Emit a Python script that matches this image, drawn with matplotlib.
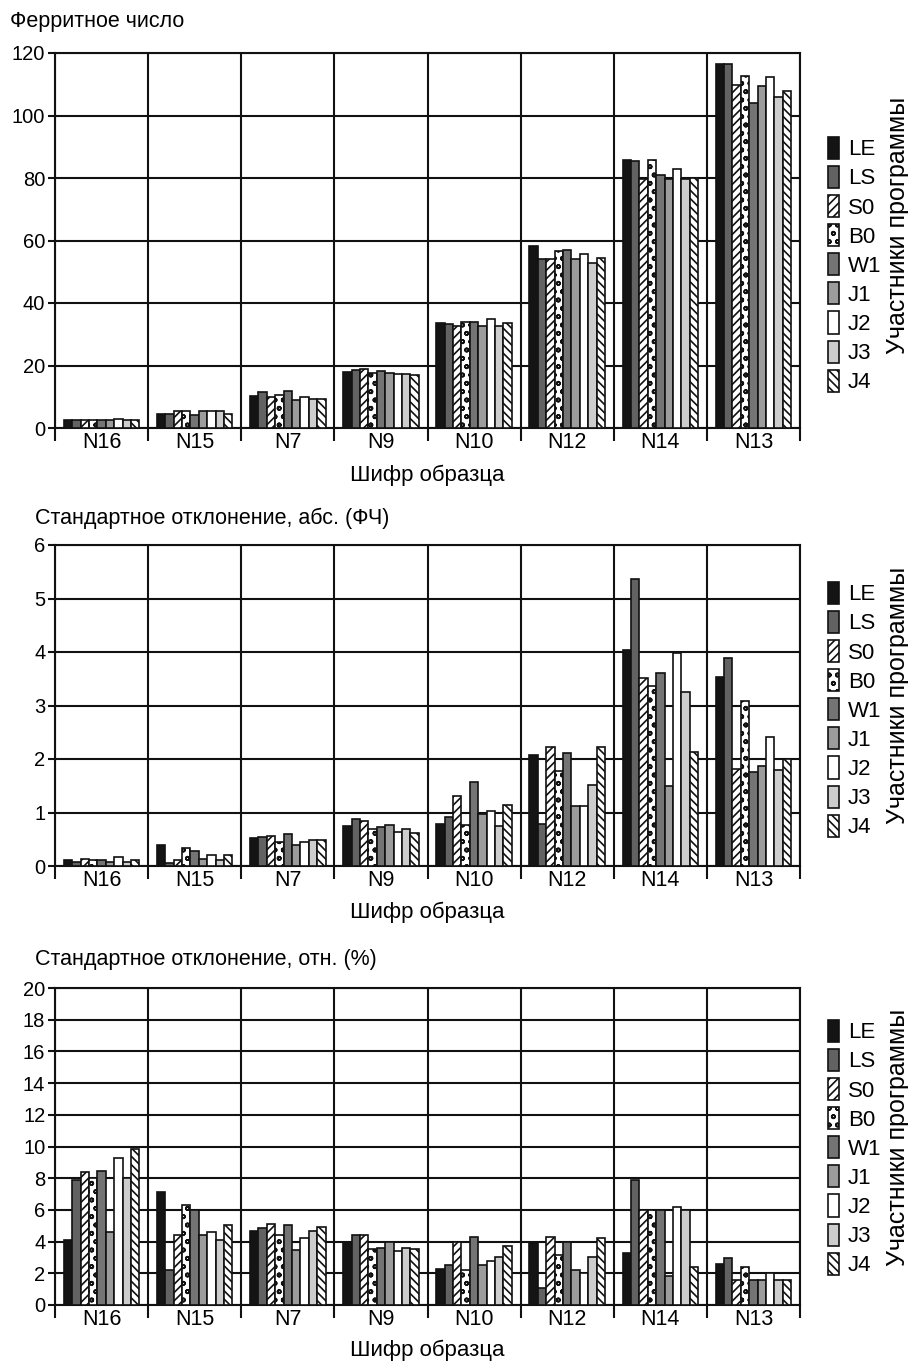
import matplotlib
matplotlib.use("Agg")
import matplotlib.pyplot as plt
from matplotlib.patches import Patch
import numpy as np

plt.rcParams['font.family'] = ['Liberation Sans', 'DejaVu Sans']
plt.rcParams['hatch.linewidth'] = 1.2

categories = ["N16", "N15", "N7", "N9", "N10", "N12", "N14", "N13"]
participants = ["LE", "LS", "S0", "B0", "W1", "J1", "J2", "J3", "J4"]

# Ferrite number, rows = participants, columns = categories
fn = {
    "LE": [2.7, 4.5, 10.3, 18.0, 33.5, 58.2, 85.7, 116.6],
    "LS": [2.7, 4.5, 11.4, 18.6, 33.3, 54.0, 85.3, 116.6],
    "S0": [2.6, 5.5, 10.0, 18.9, 32.8, 54.0, 79.8, 109.9],
    "B0": [2.7, 5.5, 10.6, 17.6, 34.0, 56.7, 85.7, 112.5],
    "W1": [2.7, 4.3, 11.7, 18.3, 34.0, 56.9, 81.0, 104.0],
    "J1": [2.7, 5.5, 9.0, 17.6, 32.6, 54.0, 79.6, 109.4],
    "J2": [2.8, 5.5, 9.8, 17.3, 34.9, 55.6, 82.8, 112.3],
    "J3": [2.6, 5.5, 9.3, 17.3, 32.8, 52.8, 79.6, 105.9],
    "J4": [2.7, 4.5, 9.3, 16.9, 33.5, 54.3, 80.1, 107.8],
}

# Standard deviation, absolute (FN)
sd_abs = {
    "LE": [0.11, 0.40, 0.52, 0.75, 0.79, 2.07, 4.04, 3.54],
    "LS": [0.07, 0.06, 0.55, 0.87, 0.92, 0.78, 5.37, 3.89],
    "S0": [0.14, 0.12, 0.57, 0.84, 1.30, 2.22, 3.52, 1.81],
    "B0": [0.12, 0.34, 0.45, 0.70, 0.76, 1.77, 3.37, 3.09],
    "W1": [0.12, 0.28, 0.60, 0.72, 1.57, 2.11, 3.61, 1.76],
    "J1": [0.08, 0.14, 0.40, 0.76, 0.98, 1.13, 1.49, 1.86],
    "J2": [0.16, 0.20, 0.45, 0.63, 1.02, 1.13, 3.99, 2.42],
    "J3": [0.08, 0.12, 0.48, 0.70, 0.75, 1.52, 3.26, 1.80],
    "J4": [0.12, 0.20, 0.48, 0.61, 1.14, 2.23, 2.13, 2.00],
}

# Standard deviation, relative (%)
sd_rel = {
    "LE": [4.1, 7.1, 4.7, 4.0, 2.3, 3.9, 3.3, 2.6],
    "LS": [7.9, 2.2, 4.85, 4.4, 2.5, 1.1, 7.9, 2.95],
    "S0": [8.4, 4.4, 5.1, 4.4, 4.0, 4.3, 6.0, 1.6],
    "B0": [8.0, 6.3, 4.4, 3.55, 2.2, 3.15, 6.0, 2.4],
    "W1": [8.45, 6.0, 5.05, 3.6, 4.3, 4.0, 6.0, 1.6],
    "J1": [4.6, 4.4, 3.5, 4.0, 2.5, 2.2, 1.8, 1.6],
    "J2": [9.25, 4.6, 4.25, 3.4, 2.75, 2.0, 6.2, 2.0],
    "J3": [8.0, 4.1, 4.7, 3.6, 3.05, 3.05, 6.0, 1.6],
    "J4": [9.85, 5.05, 4.9, 3.55, 3.75, 4.2, 2.4, 1.6],
}

styles = {
    "LE": dict(facecolor="#141414", hatch=None),
    "LS": dict(facecolor="#626262", hatch=None),
    "S0": dict(facecolor="white", hatch="////"),
    "B0": dict(facecolor="white", hatch="oo"),
    "W1": dict(facecolor="#747474", hatch=None),
    "J1": dict(facecolor="#9c9c9c", hatch=None),
    "J2": dict(facecolor="white", hatch=None),
    "J3": dict(facecolor="#cdcdcd", hatch=None),
    "J4": dict(facecolor="white", hatch="\\\\\\\\"),
}

W, H = 908, 1362
fig = plt.figure(figsize=(W / 100, H / 100), dpi=100)

panels = [
    dict(data=fn, ymax=120, step=20, title="Ферритное число",
         top=53, bottom=428, title_x=10, title_y=22, xlabel_y=475,
         leg_y=265, lab_y=225),
    dict(data=sd_abs, ymax=6, step=1, title="Стандартное отклонение, абс. (ФЧ)",
         top=545, bottom=866, title_x=35, title_y=518, xlabel_y=912,
         leg_y=710, lab_y=695),
    dict(data=sd_rel, ymax=20, step=2, title="Стандартное отклонение, отн. (%)",
         top=988, bottom=1305, title_x=35, title_y=960, xlabel_y=1350,
         leg_y=1148, lab_y=1137),
]

left_px, right_px = 55, 800
bw = 0.09
n = len(participants)
x = np.arange(len(categories)) + 0.5

for p in panels:
    ax = fig.add_axes([left_px / W, 1 - p["bottom"] / H,
                       (right_px - left_px) / W, (p["bottom"] - p["top"]) / H])
    for j, name in enumerate(participants):
        st = styles[name]
        ax.bar(x + (j - (n - 1) / 2) * bw, p["data"][name], width=bw,
               facecolor=st["facecolor"], hatch=st["hatch"],
               edgecolor="#111111", linewidth=1.2, zorder=3)
    ax.set_xlim(0, len(categories))
    ax.set_ylim(0, p["ymax"])
    ax.set_yticks(np.arange(0, p["ymax"] + p["step"] / 2, p["step"]))
    ax.set_xticks(np.arange(0, len(categories) + 1))
    ax.set_xticklabels([])
    ax.set_xticks(x, minor=True)
    ax.set_xticklabels(categories, minor=True)
    ax.tick_params(axis="x", which="major", length=9, width=1.5, direction="out", color="#111111")
    ax.tick_params(axis="x", which="minor", length=0, labelsize=15.5, pad=3)
    ax.tick_params(axis="y", length=5, width=1.5, labelsize=14.5, pad=2, color="#111111")
    ax.grid(True, which="major", color="#111111", linewidth=1.5, zorder=0)
    for s in ax.spines.values():
        s.set_linewidth(1.5)
        s.set_color("#111111")
    fig.text(p["title_x"] / W, 1 - p["title_y"] / H, p["title"], fontsize=15.5,
             va="center", ha="left")
    fig.text(427 / W, 1 - p["xlabel_y"] / H, "Шифр образца", fontsize=16,
             va="center", ha="center")

    handles = [Patch(facecolor=styles[nm]["facecolor"], hatch=styles[nm]["hatch"],
                     edgecolor="#111111", linewidth=1.2) for nm in participants]
    leg = fig.legend(handles, participants, loc="center left",
                     bbox_to_anchor=(828 / W, 1 - p["leg_y"] / H),
                     frameon=False, fontsize=16, handlelength=0.5,
                     handleheight=1.15, handletextpad=0.4, labelspacing=0.25,
                     borderpad=0, borderaxespad=0)
    fig.text(898 / W, 1 - p["lab_y"] / H, "Участники программы", rotation=90,
             fontsize=18, va="center", ha="center")

fig.savefig("out.png", dpi=100)
